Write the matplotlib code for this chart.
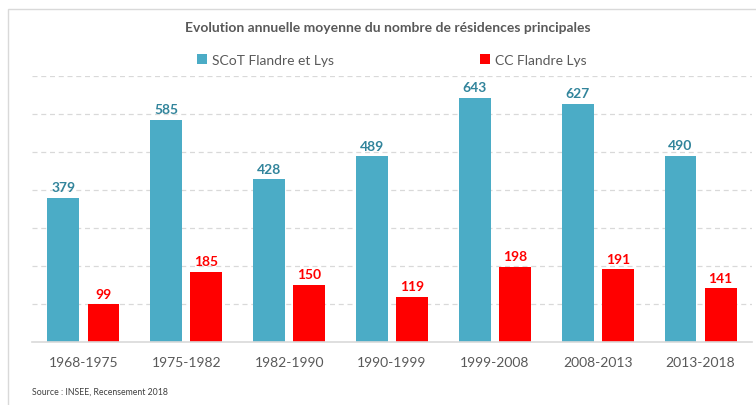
import numpy as np
import matplotlib.pyplot as plt
from matplotlib.patches import Rectangle

periodes = ['1968-1975', '1975-1982', '1982-1990', '1990-1999', '1999-2008', '2008-2013', '2013-2018']
scot = [379, 585, 428, 489, 643, 627, 490]
cc = [99, 185, 150, 119, 198, 191, 141]
series_noms = ['SCoT Flandre et Lys', 'CC Flandre Lys']

plt.rcParams['font.family'] = ['Lato', 'DejaVu Sans']

bleu = '#4BACC6'
rouge = '#FF0000'
gris = '#595959'

fig = plt.figure(figsize=(7.56, 4.06), dpi=100)
# cadre gris clair autour du graphique
fig.patches.append(Rectangle((8 / 756, -0.01), 1.0, (406 - 10) / 406 + 0.01,
                             transform=fig.transFigure, fill=False,
                             edgecolor='#D9D9D9', linewidth=1))

ax = fig.add_axes([32 / 756, 63 / 406, 720 / 756, (343 - 77) / 406])
x = np.arange(len(periodes))
largeur = 0.31
ecart = 0.195

b1 = ax.bar(x - ecart, scot, largeur, color=bleu, label=series_noms[0])
b2 = ax.bar(x + ecart, cc, largeur, color=rouge, label=series_noms[1])

for rect, v in zip(b1, scot):
    ax.text(rect.get_x() + rect.get_width() / 2, v + 12, str(v), ha='center', va='bottom',
            fontsize=10, fontweight='bold', color='#31849B')
for rect, v in zip(b2, cc):
    ax.text(rect.get_x() + rect.get_width() / 2, v + 12, str(v), ha='center', va='bottom',
            fontsize=10, fontweight='bold', color=rouge)

ax.set_xlim(-0.5, len(periodes) - 0.5)
ax.set_ylim(0, 700)
ax.set_yticks(np.arange(100, 701, 100))
ax.yaxis.grid(True, linestyle=(0, (4, 3)), color='#D9D9D9', linewidth=0.9)
ax.set_axisbelow(True)
ax.tick_params(axis='y', left=False, labelleft=False)
ax.set_xticks(x)
ax.set_xticklabels(periodes, fontsize=10, color=gris)
ax.tick_params(axis='x', length=0, pad=10)
for s in ['top', 'right', 'left']:
    ax.spines[s].set_visible(False)
ax.spines['bottom'].set_color('#D9D9D9')
ax.spines['bottom'].set_linewidth(1.2)

fig.text(388 / 756, 1 - 28 / 406, 'Evolution annuelle moyenne du nombre de résidences principales',
         ha='center', va='center', fontsize=10, fontweight='bold', color=gris)
fig.legend(loc='center', bbox_to_anchor=(392 / 756, 1 - 61 / 406), ncol=2, frameon=False,
           fontsize=10, labelcolor=gris, handlelength=0.7, handleheight=0.7,
           handletextpad=0.4, columnspacing=10.5)
fig.text(32 / 756, 1 - 392 / 406, 'Source : INSEE, Recensement 2018', ha='left', va='center',
         fontsize=6.3, color='#404040')

fig.savefig('out.png', dpi=100)
